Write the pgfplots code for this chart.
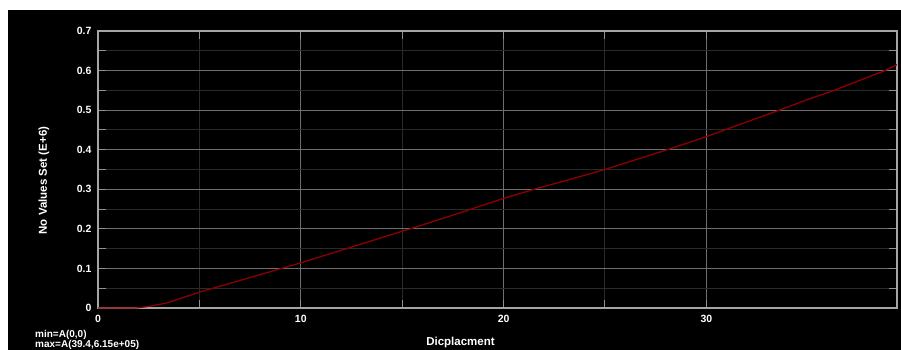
\documentclass[border=0pt]{standalone}
\usepackage{pgfplots}
\pgfplotsset{compat=1.18}
\usepackage{fontspec}
\setmainfont{Liberation Sans}
\definecolor{majgrid}{RGB}{110,110,110}
\definecolor{mingrid}{RGB}{42,42,42}
\definecolor{axframe}{RGB}{165,165,165}
\definecolor{tickc}{RGB}{145,145,145}
\definecolor{curvec}{RGB}{140,0,0}
\begin{document}
\begin{tikzpicture}
\fill[white] (-98pt,-42pt) rectangle (803pt,308pt);
\fill[black] (-90pt,-42pt) rectangle (803pt,298pt);
\begin{axis}[
  at={(0pt,0pt)}, anchor=south west,
  scale only axis, width=799pt, height=277pt,
  xmin=0, xmax=39.4, ymin=0, ymax=0.7,
  xtick={0,10,20,30}, xticklabels={0,10,20,30},
  ytick={0,0.1,0.2,0.3,0.4,0.5,0.6,0.7},
  yticklabels={0,0.1,0.2,0.3,0.4,0.5,0.6,0.7},
  minor x tick num=1, minor y tick num=1,
  grid=both,
  major grid style={majgrid, line width=1pt},
  minor grid style={mingrid, line width=1pt},
  axis line style={axframe, line width=1.3pt},
  every tick/.style={tickc, line width=1pt},
  tick align=inside, major tick length=8pt, minor tick length=8pt,
  tick label style={font=\bfseries\fontsize{10.5}{12}\selectfont, text=white},
  xticklabel style={yshift=-3.5pt},
  yticklabel style={xshift=-3pt},
  xlabel={Dicplacment},
  ylabel={No Values Set (E+6)},
  label style={font=\bfseries\fontsize{11.5}{13}\selectfont, text=white},
  xlabel style={at={(axis description cs:0.4537,-0.124)}, anchor=center},
  ylabel style={at={(axis description cs:-0.0676,0.46)}, anchor=center, rotate=0},
]
\addplot[curvec, line width=1.3pt] coordinates {
  (0,0) (1.9,0) (2.5,0.004) (3.38,0.0126) (5,0.040) (7.5,0.077)
  (9.05,0.100) (10,0.114) (12.5,0.154) (15,0.194) (15.4,0.200)
  (16,0.210) (18,0.243) (20,0.277) (21.5,0.300) (23,0.321) (25,0.350)
  (28.07,0.400) (30,0.433) (30.9,0.450) (33.6,0.500) (35,0.527)
  (36.3,0.550) (38.8,0.600) (39.4,0.615)
};
\end{axis}
\node[anchor=base west, text=white, font=\bfseries\fontsize{10}{12}\selectfont, inner sep=0pt] at (-63pt,-29.3pt) {min=A(0,0)};
\node[anchor=base west, text=white, font=\bfseries\fontsize{10}{12}\selectfont, inner sep=0pt] at (-63pt,-39.6pt) {max=A(39.4,6.15e+05)};
\pgfresetboundingbox
\useasboundingbox (-98pt,-42pt) rectangle (803pt,308pt);
\end{tikzpicture}
\end{document}
